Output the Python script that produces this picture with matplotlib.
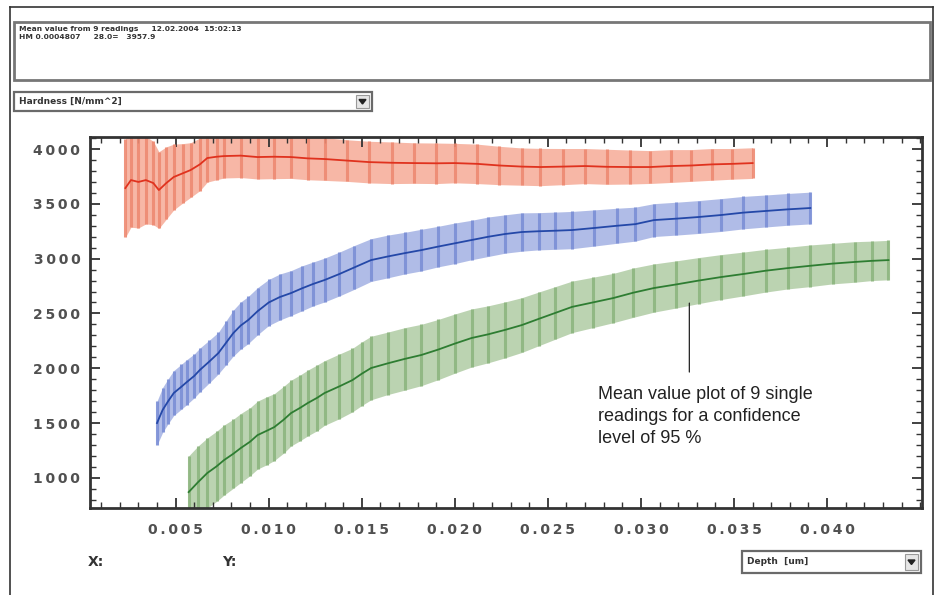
import numpy as np
import matplotlib
matplotlib.use("Agg")
import matplotlib.pyplot as plt
from matplotlib.patches import Rectangle, Polygon
from matplotlib.lines import Line2D
from matplotlib.ticker import MultipleLocator, FixedLocator, FuncFormatter

# hardness vs depth, three indentation series, mean value +- 95% confidence half width
red_x = [0.0023, 0.0026, 0.0030, 0.0034, 0.0038, 0.0041, 0.0045, 0.0049, 0.0054, 0.0058,
         0.0063, 0.0067, 0.0072, 0.0076, 0.0085, 0.0094, 0.0103, 0.0112, 0.0121, 0.0130,
         0.0142, 0.0154, 0.0166, 0.0178, 0.0190, 0.0200, 0.0212, 0.0224, 0.0236, 0.0246,
         0.0258, 0.0270, 0.0282, 0.0294, 0.0305, 0.0316, 0.0327, 0.0338, 0.0349, 0.0360]
red_mean = [3644, 3717, 3700, 3717, 3690, 3626, 3690, 3745, 3780, 3808,
            3860, 3918, 3930, 3936, 3940, 3927, 3930, 3927, 3915, 3909,
            3895, 3881, 3875, 3872, 3870, 3872, 3865, 3850, 3840, 3836,
            3840, 3845, 3838, 3836, 3836, 3845, 3850, 3860, 3865, 3872]
red_err = [450, 430, 420, 400, 380, 350, 330, 300, 270, 250,
           240, 220, 210, 200, 200, 200, 200, 195, 195, 195,
           190, 190, 190, 185, 185, 180, 180, 175, 170, 170,
           165, 160, 160, 155, 150, 150, 145, 145, 140, 140]

blue_x = [0.0040, 0.0043, 0.0046, 0.0049, 0.0053, 0.0056, 0.0060, 0.0063, 0.0068, 0.0073,
          0.0077, 0.0081, 0.0085, 0.0089, 0.0094, 0.0100, 0.0106, 0.0112, 0.0118, 0.0124,
          0.0130, 0.0138, 0.0146, 0.0155, 0.0164, 0.0173, 0.0182, 0.0191, 0.0200, 0.0209,
          0.0218, 0.0227, 0.0236, 0.0245, 0.0254, 0.0263, 0.0275, 0.0287, 0.0297, 0.0307,
          0.0319, 0.0331, 0.0343, 0.0355, 0.0367, 0.0379, 0.0391]
blue_mean = [1500, 1619, 1700, 1774, 1830, 1874, 1930, 1984, 2060, 2139,
             2230, 2321, 2390, 2440, 2520, 2600, 2650, 2686, 2730, 2770,
             2805, 2860, 2920, 2987, 3020, 3050, 3078, 3110, 3140, 3170,
             3200, 3225, 3243, 3250, 3255, 3261, 3280, 3300, 3315, 3352,
             3365, 3380, 3398, 3420, 3435, 3450, 3462]
blue_err = [200, 205, 205, 205, 205, 205, 200, 200, 195, 190,
            200, 210, 215, 215, 215, 210, 210, 205, 205, 200,
            200, 200, 200, 195, 195, 190, 190, 185, 185, 180,
            180, 175, 175, 170, 170, 170, 165, 160, 155, 150,
            150, 150, 150, 148, 146, 145, 145]

green_x = [0.0057, 0.0062, 0.0067, 0.0072, 0.0076, 0.0081, 0.0085, 0.0090, 0.0094, 0.0099,
           0.0103, 0.0108, 0.0112, 0.0117, 0.0121, 0.0126, 0.0130, 0.0138, 0.0145, 0.0150,
           0.0155, 0.0164, 0.0173, 0.0182, 0.0191, 0.0200, 0.0209, 0.0218, 0.0227, 0.0236,
           0.0245, 0.0254, 0.0263, 0.0274, 0.0285, 0.0296, 0.0307, 0.0319, 0.0331, 0.0343,
           0.0355, 0.0367, 0.0379, 0.0391, 0.0403, 0.0415, 0.0424, 0.0433]
green_mean = [870, 960, 1044, 1105, 1162, 1220, 1272, 1330, 1390, 1430,
              1463, 1530, 1591, 1640, 1683, 1730, 1774, 1835, 1892, 1950,
              2002, 2045, 2085, 2121, 2170, 2225, 2276, 2310, 2350, 2394,
              2450, 2505, 2560, 2600, 2640, 2690, 2732, 2765, 2800, 2832,
              2860, 2890, 2914, 2935, 2955, 2970, 2980, 2987]
green_err = [330, 330, 320, 320, 320, 315, 315, 310, 310, 310,
             305, 305, 300, 300, 300, 300, 295, 295, 290, 290,
             290, 285, 285, 280, 275, 270, 265, 260, 255, 250,
             245, 240, 235, 230, 225, 225, 220, 215, 210, 205,
             200, 195, 190, 190, 185, 185, 180, 180]

x_ticks = [0.005, 0.010, 0.015, 0.020, 0.025, 0.030, 0.035, 0.040]
y_ticks = [1000, 1500, 2000, 2500, 3000, 3500, 4000]

series = [
    (red_x, red_mean, red_err, "#f6ab97", "#ee8a72", "#e0321e"),
    (blue_x, blue_mean, blue_err, "#a3b1e3", "#7b8fd6", "#2448a8"),
    (green_x, green_mean, green_err, "#b0cca4", "#8db57f", "#2e7d32"),
]

W, H = 938, 595
fig = plt.figure(figsize=(W / 100, H / 100), dpi=100)
fig.patch.set_facecolor("white")


def fx(x):
    return x / W


def fy(y):
    return 1 - y / H


def box(x0, y0, x1, y1, lw=1.5, ec="#6a6a6a", fc="white"):
    fig.add_artist(Rectangle((fx(x0), fy(y1)), fx(x1) - fx(x0), fy(y0) - fy(y1),
                             transform=fig.transFigure, lw=lw, ec=ec, fc=fc))


def dropdown(x0, y0, x1, y1, label):
    box(x0, y0, x1, y1, lw=1.6)
    # button with arrow
    box(x1 - 16, y0 + 3, x1 - 3, y1 - 3, lw=0.8, ec="#999999", fc="#e6e6e6")
    cx, cy = x1 - 9.5, (y0 + y1) / 2
    fig.add_artist(Polygon([(fx(cx - 3.5), fy(cy - 2)), (fx(cx + 3.5), fy(cy - 2)), (fx(cx), fy(cy + 2.5))],
                           transform=fig.transFigure, color="#222222"))
    fig.text(fx(x0 + 5), fy((y0 + y1) / 2), label, fontsize=6.5, fontweight="bold",
             color="#333333", va="center", ha="left")


# window frame
for (xa, ya, xb, yb) in [(10, 7, 933, 7), (10, 7, 10, 595), (933, 7, 933, 595)]:
    fig.add_artist(Line2D([fx(xa), fx(xb)], [fy(ya), fy(yb)], transform=fig.transFigure,
                          color="#333333", lw=1.2))

# info box
box(14, 22, 930, 80, lw=2.0, ec="#777777")
fig.text(fx(19), fy(29.5), "Mean value from 9 readings     12.02.2004  15:02:13", fontsize=5.4,
         fontweight="bold", color="#333333", va="center")
fig.text(fx(19), fy(37), "HM 0.0004807     28.0=   3957.9", fontsize=5.4,
         fontweight="bold", color="#333333", va="center")

dropdown(14, 92, 372, 111, "Hardness [N/mm^2]")
dropdown(742, 551, 921, 573, "Depth  [um]")

ax = fig.add_axes([fx(90), fy(508), fx(922) - fx(90), fy(137) - fy(508)])

for xs, m, e, band, bar, line in series:
    xs = np.array(xs)
    m = np.array(m)
    e = np.array(e)
    ax.fill_between(xs, m - e, m + e, color=band, lw=0, alpha=0.85, zorder=1)
    ax.vlines(xs, m - e, m + e, color=bar, lw=2.2, alpha=0.9, zorder=2)
    ax.plot(xs, m, color=line, lw=1.3, zorder=3)

ax.set_xlim(0.0004, 0.0451)
ax.set_ylim(725, 4110)

ax.xaxis.set_major_locator(FixedLocator(x_ticks))
ax.xaxis.set_minor_locator(MultipleLocator(0.001))
ax.yaxis.set_major_locator(FixedLocator(y_ticks))
ax.yaxis.set_minor_locator(MultipleLocator(100))


def spaced(s):
    return "\u2009".join(s)


ax.xaxis.set_major_formatter(FuncFormatter(lambda v, p: spaced("%.3f" % v)))
ax.yaxis.set_major_formatter(FuncFormatter(lambda v, p: spaced("%d" % v)))

ax.tick_params(which="both", direction="in", top=True, right=True, color="#333333",
               labelcolor="#505050", labelsize=10)
ax.tick_params(which="major", length=7, width=1.3)
ax.tick_params(which="minor", length=4, width=1.0)
ax.tick_params(axis="x", pad=11)
ax.tick_params(axis="y", pad=7)
for lab in ax.get_xticklabels() + ax.get_yticklabels():
    lab.set_fontweight("bold")
for sp in ax.spines.values():
    sp.set_linewidth(2.0)
    sp.set_color("#333333")

# callout
ax.annotate("", xy=(0.0326, 2620), xytext=(0.0326, 1940),
            arrowprops=dict(arrowstyle="-", lw=0.9, color="#222222"))
ax.text(0.0277, 1840, "Mean value plot of 9 single\nreadings for a confidence\nlevel of 95 %",
        family="Liberation Sans", fontsize=13, color="#222222", va="top", ha="left",
        linespacing=1.4)

fig.text(fx(88), fy(562), "X:", fontsize=10, fontweight="bold", color="#333333", va="center")
fig.text(fx(222), fy(562), "Y:", fontsize=10, fontweight="bold", color="#333333", va="center")

fig.savefig("out.png", dpi=100)
